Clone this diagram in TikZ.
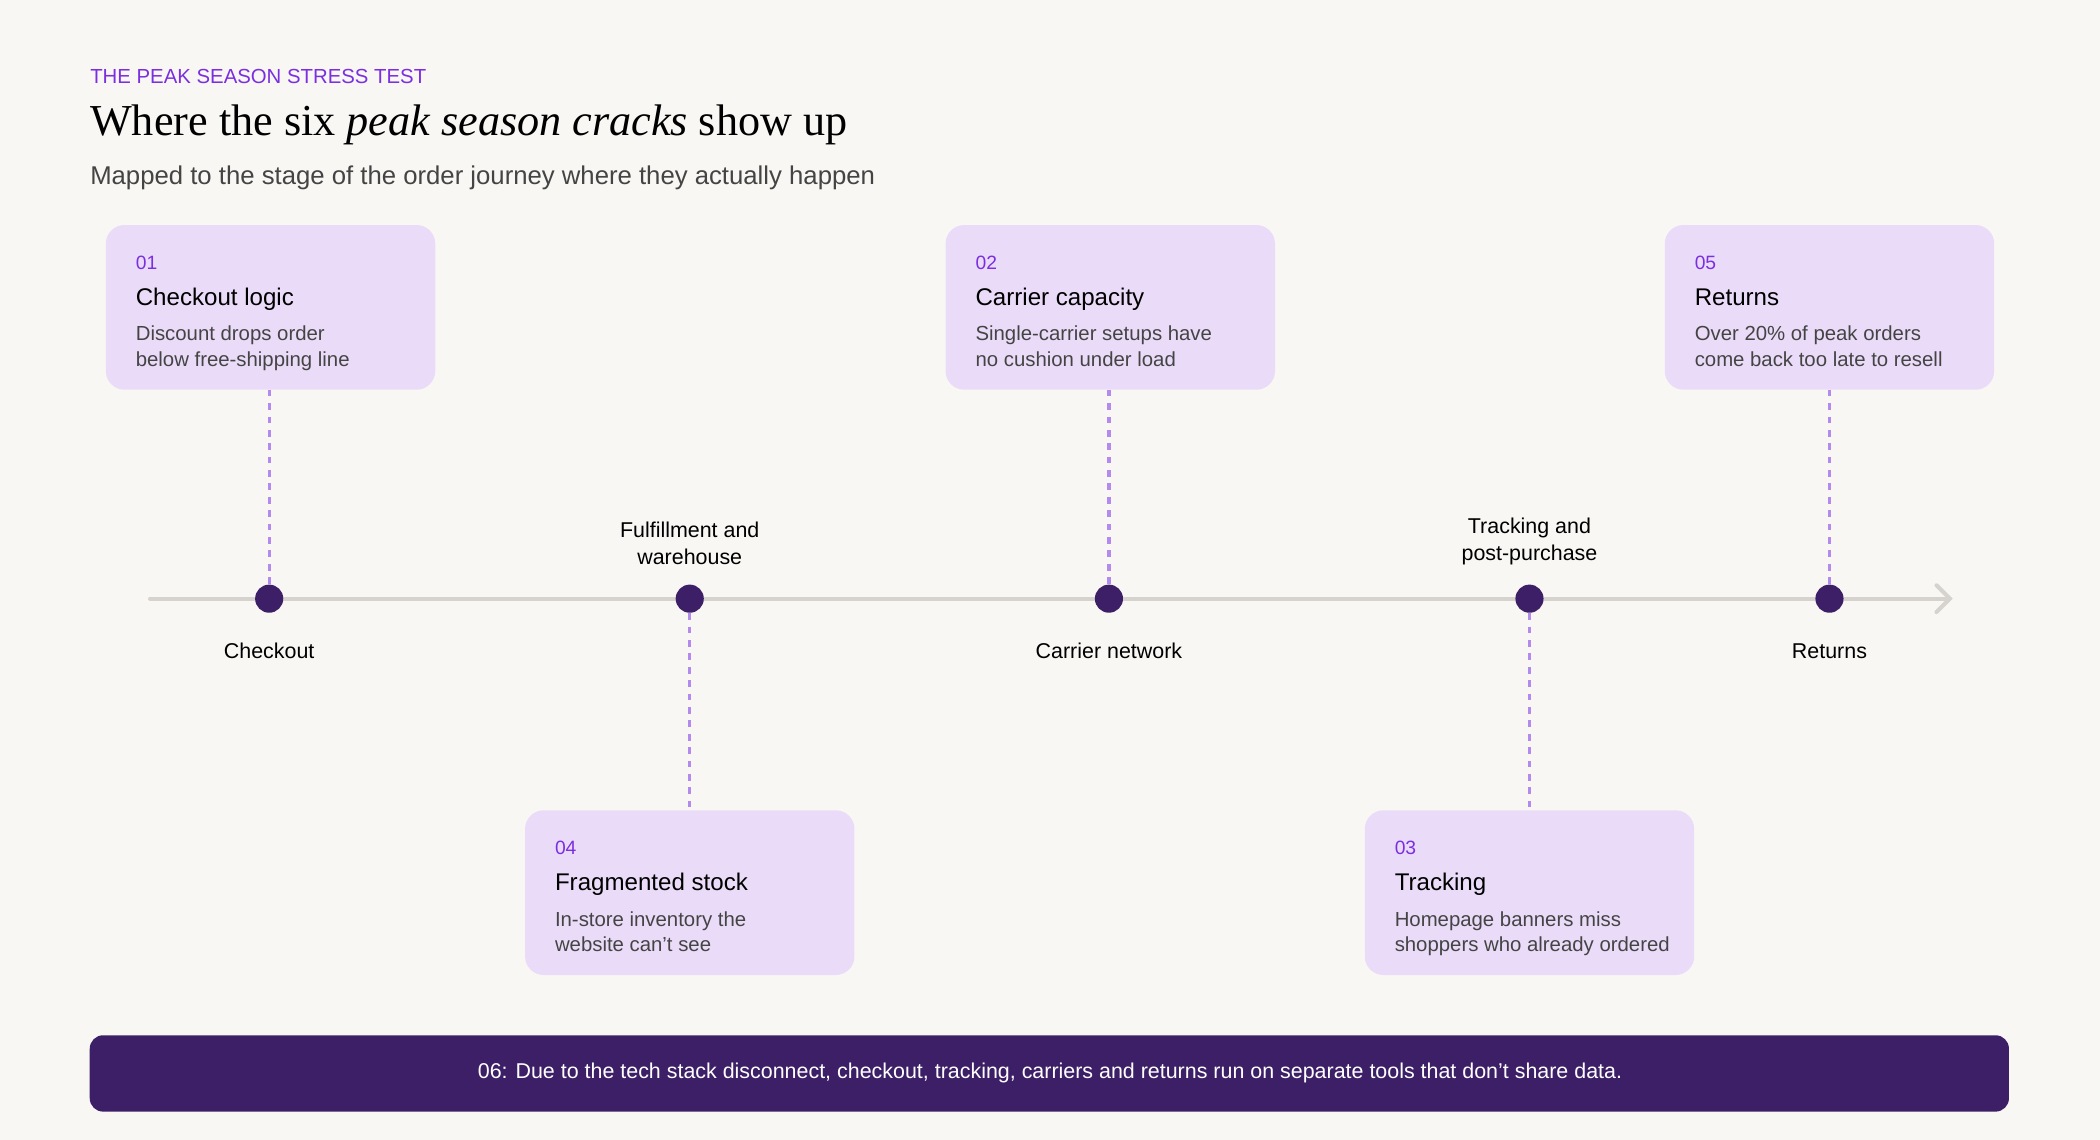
\documentclass[tikz,border=0pt]{standalone}
\usepackage{fontspec}
\setmainfont{Liberation Sans}
\newfontfamily\seriff{Liberation Serif}
\usetikzlibrary{arrows.meta}
\definecolor{bg}{HTML}{F8F7F4}
\definecolor{boxc}{HTML}{EADCF8}
\definecolor{dotc}{HTML}{3C1F66}
\definecolor{dashc}{HTML}{B38AEE}
\definecolor{linec}{HTML}{D6D3CE}
\definecolor{accent}{HTML}{7B2FE0}
\definecolor{bodyc}{HTML}{444444}
\begin{document}
\begin{tikzpicture}[x=0.5pt,y=-0.5pt,
  card/.style={fill=boxc,rounded corners=7pt},
  dot/.style={circle,fill=dotc,minimum size=10.5pt,inner sep=0},
  num/.style={anchor=base west,font=\fontsize{7.2}{8}\selectfont,text=accent,inner sep=0},
  head/.style={anchor=base west,font=\fontsize{9}{10}\selectfont,inner sep=0},
  body/.style={anchor=north west,font=\fontsize{7.6}{9.5}\selectfont,text=bodyc,align=left,inner sep=0},
  stage/.style={font=\fontsize{8}{10}\selectfont,align=center,inner sep=0},
  conn/.style={dashc,line width=1.2pt,dash pattern=on 2.5pt off 2.5pt}]
\fill[bg] (0,0) rectangle (1568,851);
\node[anchor=base west,inner sep=0,text=accent,font=\fontsize{7.6}{9}\selectfont] (kick) at (67,62) {THE PEAK SEASON STRESS TEST};
\node[anchor=base west,inner sep=0,font=\seriff\fontsize{16.5}{18}\selectfont] (title) at (67,101) {Where the six \textit{peak season cracks} show up};
\node[anchor=base west,inner sep=0,text=bodyc,font=\fontsize{9.6}{11}\selectfont] (sub) at (67,138) {Mapped to the stage of the order journey where they actually happen};
% timeline
\coordinate (ls) at (112,447); \coordinate (le) at (1458,447);
\draw[linec,line width=1.5pt,-{Straight Barb[length=5pt,width=10pt,line cap=round]},line cap=round] (ls) -- (le);
\foreach \n/\x in {d1/201,d2/515,d3/828,d4/1142,d5/1366}{\node[dot] (\n) at (\x,447) {};}
\node[stage] (s1) at (201,486) {Checkout};
\node[stage,anchor=south] (s2) at (515,422) {Fulfillment and\\warehouse};
\node[stage] (s3) at (828,486) {Carrier network};
\node[stage,anchor=south] (s4) at (1142,422) {Tracking and\\post-purchase};
\node[stage] (s5) at (1366,486) {Returns};
% cards
\newcommand\card[6]{%
  \fill[card] (#1,#2) rectangle ++(246,123);
  \coordinate (#6) at (#1+123,#2);
  \node[num] at (#1+22,#2+33) {#3};
  \node[head] at (#1+22,#2+60) {#4};
  \node[body] at (#1+22,#2+75) {#5};}
\card{79}{168}{01}{Checkout logic}{Discount drops order\\below free-shipping line}{c1}
\card{706}{168}{02}{Carrier capacity}{Single-carrier setups have\\no cushion under load}{c2}
\card{1243}{168}{05}{Returns}{Over 20\% of peak orders\\come back too late to resell}{c5}
\card{392}{605}{04}{Fragmented stock}{In-store inventory the\\website can't see}{c4}
\card{1019}{605}{03}{Tracking}{Homepage banners miss\\shoppers who already ordered}{c3}
\coordinate (b1) at (201,291); \coordinate (b2) at (828,291); \coordinate (b5) at (1366,291);
\draw[conn] (b1) -- (d1.north);
\draw[conn] (b2) -- (d3.north);
\draw[conn] (b5) -- (d5.north);
\draw[conn] (d2.south) -- (c4);
\draw[conn] (d4.south) -- (c3);
% footer
\fill[dotc,rounded corners=5pt] (67,773) rectangle (1500,830);
\node[text=white,font=\fontsize{8}{10}\selectfont,inner sep=0] (foot) at (784,801) {06: Due to the tech stack disconnect, checkout, tracking, carriers and returns run on separate tools that don't share data.};
\end{tikzpicture}
\end{document}
